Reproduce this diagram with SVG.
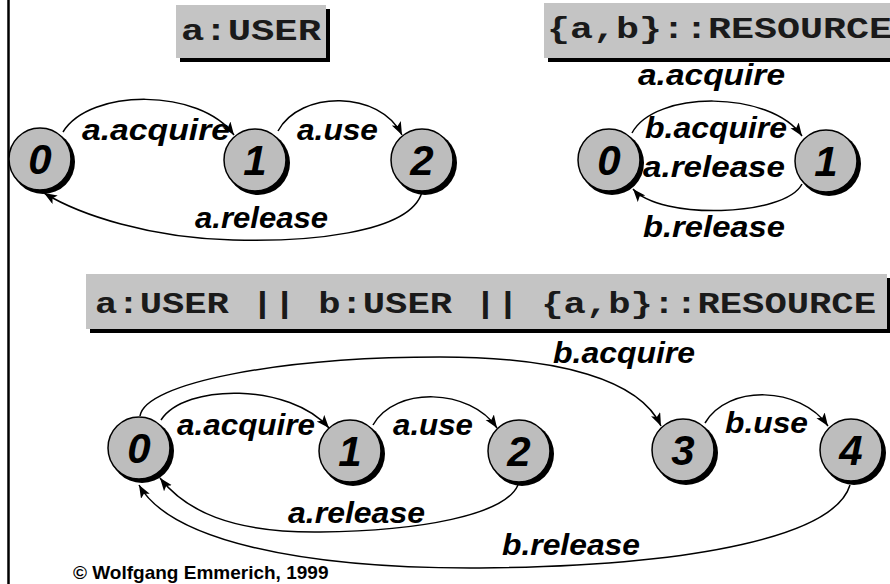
<svg xmlns="http://www.w3.org/2000/svg" width="890" height="584" viewBox="0 0 890 584">
  <defs>
    <marker id="arrow" markerUnits="userSpaceOnUse" markerWidth="14" markerHeight="12" refX="13" refY="5" orient="auto">
      <path d="M0,0 L13,5 L0,10 L3,5 Z" fill="#000"/>
    </marker>
    <style>
      .title-bg { fill: #c4c4c4; }
      .title-shadow { fill: #000; }
      .title { font-family: "Courier New", "Nimbus Mono PS", "FreeMono", "Liberation Mono", monospace; font-weight: bold; fill: #1a1a1a; }
      .state-shadow { fill: #000; }
      .state { fill: #bdbdbd; stroke: #000; stroke-width: 1.5; }
      .digit { font-family: "Liberation Sans", Arial, sans-serif; font-weight: bold; font-style: italic; font-size: 42px; fill: #000; text-anchor: middle; }
      .label { font-family: "Liberation Sans", Arial, sans-serif; font-weight: bold; font-style: italic; font-size: 29px; fill: #000; }
      .edge { fill: none; stroke: #000; stroke-width: 1.5; marker-end: url(#arrow); }
      .copy { font-family: "Liberation Sans", Arial, sans-serif; font-weight: bold; font-size: 19px; fill: #000; }
    </style>
  </defs>

  <rect width="890" height="584" fill="#fff"/>
  <!-- left frame rule -->
  <line x1="8.5" y1="0" x2="8.5" y2="584" stroke="#000" stroke-width="2.5"/>

  <!-- process titles -->
  <g id="title-user">
    <rect class="title-shadow" x="180" y="9" width="150" height="53"/>
    <rect class="title-bg" x="176" y="5" width="150" height="53"/>
    <text class="title" x="181" y="40" font-size="29" textLength="140" lengthAdjust="spacingAndGlyphs">a:USER</text>
  </g>
  <g id="title-resource">
    <rect class="title-shadow" x="548" y="7" width="346" height="55"/>
    <rect class="title-bg" x="544" y="3" width="346" height="55"/>
    <text class="title" x="547" y="38" font-size="29" textLength="345" lengthAdjust="spacingAndGlyphs">{a,b}::RESOURCE</text>
  </g>
  <g id="title-composite">
    <rect class="title-shadow" x="90" y="278" width="801" height="55"/>
    <rect class="title-bg" x="86" y="274" width="801" height="55"/>
    <text class="title" x="95" y="313" font-size="30" textLength="781" lengthAdjust="spacingAndGlyphs">a:USER || b:USER || {a,b}::RESOURCE</text>
  </g>

  <!-- transitions -->
  <g id="connectors">
    <!-- a:USER -->
    <path class="edge" d="M63,132 C90,88 200,88 234,135"/>
    <path class="edge" d="M278,131 C300,90 380,90 402,135"/>
    <path class="edge" d="M422,192 C410,235 300,242 233,240 C150,238 80,215 44,193"/>
    <!-- {a,b}::RESOURCE -->
    <path class="edge" d="M632,133 C655,90 770,90 802,136"/>
    <path class="edge" d="M802,184 C785,217 660,220 633,189"/>
    <!-- composition -->
    <path class="edge" d="M161,420 C185,383 290,383 329,428"/>
    <path class="edge" d="M373,425 C395,386 470,388 497,428"/>
    <path class="edge" d="M140,416 C145,383 280,357 440,357 C560,357 640,380 661,426"/>
    <path class="edge" d="M705,423 C728,384 800,386 828,426"/>
    <path class="edge" d="M518,485 C505,515 420,531 320,532 C230,533 185,510 160,478"/>
    <path class="edge" d="M850,485 C835,535 700,566 480,568 C300,569 170,540 139,485"/>
  </g>

  <!-- a:USER states -->
  <g id="user-s0">
    <circle class="state-shadow" cx="43" cy="162" r="32"/>
    <circle class="state" cx="40" cy="159" r="31"/>
    <text class="digit" x="40" y="174">0</text>
  </g>
  <g id="user-s1">
    <circle class="state-shadow" cx="258" cy="163" r="32"/>
    <circle class="state" cx="255" cy="160" r="31"/>
    <text class="digit" x="255" y="175">1</text>
  </g>
  <g id="user-s2">
    <circle class="state-shadow" cx="425" cy="163" r="32"/>
    <circle class="state" cx="422" cy="160" r="31"/>
    <text class="digit" x="422" y="175">2</text>
  </g>

  <!-- {a,b}::RESOURCE states -->
  <g id="res-s0">
    <circle class="state-shadow" cx="612" cy="163" r="32"/>
    <circle class="state" cx="609" cy="160" r="31"/>
    <text class="digit" x="609" y="175">0</text>
  </g>
  <g id="res-s1">
    <circle class="state-shadow" cx="829" cy="164" r="32"/>
    <circle class="state" cx="826" cy="161" r="31"/>
    <text class="digit" x="826" y="176">1</text>
  </g>

  <!-- composite states -->
  <g id="comp-s0">
    <circle class="state-shadow" cx="142" cy="451" r="32"/>
    <circle class="state" cx="139" cy="448" r="31"/>
    <text class="digit" x="139" y="463">0</text>
  </g>
  <g id="comp-s1">
    <circle class="state-shadow" cx="353" cy="454" r="32"/>
    <circle class="state" cx="350" cy="451" r="31"/>
    <text class="digit" x="350" y="466">1</text>
  </g>
  <g id="comp-s2">
    <circle class="state-shadow" cx="522" cy="454" r="32"/>
    <circle class="state" cx="519" cy="451" r="31"/>
    <text class="digit" x="519" y="466">2</text>
  </g>
  <g id="comp-s3">
    <circle class="state-shadow" cx="686" cy="453" r="32"/>
    <circle class="state" cx="683" cy="450" r="31"/>
    <text class="digit" x="683" y="465">3</text>
  </g>
  <g id="comp-s4">
    <circle class="state-shadow" cx="854" cy="453" r="32"/>
    <circle class="state" cx="851" cy="450" r="31"/>
    <text class="digit" x="851" y="465">4</text>
  </g>

  <!-- transition labels -->
  <g id="labels">
    <text class="label" x="82" y="140" textLength="148" lengthAdjust="spacingAndGlyphs">a.acquire</text>
    <text class="label" x="297" y="140" textLength="81" lengthAdjust="spacingAndGlyphs">a.use</text>
    <text class="label" x="195" y="228" textLength="133" lengthAdjust="spacingAndGlyphs">a.release</text>

    <text class="label" x="638" y="85" textLength="147" lengthAdjust="spacingAndGlyphs">a.acquire</text>
    <text class="label" x="645" y="138" textLength="142" lengthAdjust="spacingAndGlyphs">b.acquire</text>
    <text class="label" x="643" y="177" textLength="142" lengthAdjust="spacingAndGlyphs">a.release</text>
    <text class="label" x="643" y="237" textLength="142" lengthAdjust="spacingAndGlyphs">b.release</text>

    <text class="label" x="177" y="435" textLength="138" lengthAdjust="spacingAndGlyphs">a.acquire</text>
    <text class="label" x="393" y="435" textLength="80" lengthAdjust="spacingAndGlyphs">a.use</text>
    <text class="label" x="288" y="523" textLength="137" lengthAdjust="spacingAndGlyphs">a.release</text>
    <text class="label" x="553" y="363" textLength="142" lengthAdjust="spacingAndGlyphs">b.acquire</text>
    <text class="label" x="725" y="433" textLength="83" lengthAdjust="spacingAndGlyphs">b.use</text>
    <text class="label" x="502" y="555" textLength="138" lengthAdjust="spacingAndGlyphs">b.release</text>
  </g>

  <text class="copy" x="73" y="579">© Wolfgang Emmerich, 1999</text>
</svg>
